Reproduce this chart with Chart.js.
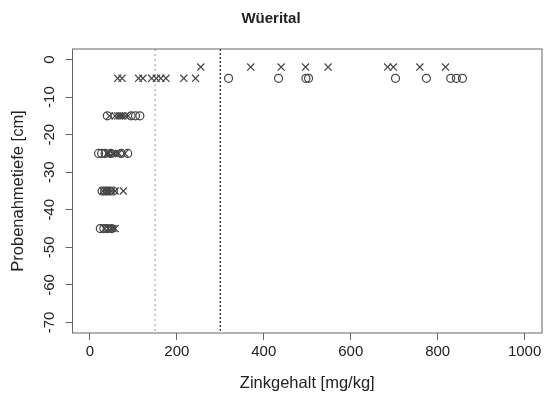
<!DOCTYPE html>
<html>
<head>
<meta charset="utf-8">
<script src="https://cdn.jsdelivr.net/npm/chart.js@4/dist/chart.umd.min.js"></script>
<style>
  html, body { margin: 0; padding: 0; background: #fff; }
  #wrap { width: 549px; height: 396px; }
</style>
</head>
<body>
<div id="wrap"><canvas id="zink_chart"></canvas></div>
<script>
// DATA
const x_ticks = [0, 200, 400, 600, 800, 1000];
const y_ticks = [0, -10, -20, -30, -40, -50, -60, -70];
const thresholds = [150, 300];

// KREUZE (x)
const cross_zinc = [
  255, 370, 440, 496, 548, 685, 698, 759, 818,
  64, 74, 112, 122, 142, 153, 163, 175, 216, 243,
  45, 58, 64, 68, 72, 76, 82, 88,
  40, 44, 52, 56, 62, 66, 80,
  30, 36, 42, 50, 58, 77,
  34, 42, 48, 53, 58
];
const cross_depth = [
  -2, -2, -2, -2, -2, -2, -2, -2, -2,
  -5, -5, -5, -5, -5, -5, -5, -5, -5, -5,
  -15, -15, -15, -15, -15, -15, -15, -15,
  -25, -25, -25, -25, -25, -25, -25,
  -35, -35, -35, -35, -35, -35,
  -45, -45, -45, -45, -45
];

// KREISE (o)
const circle_zinc = [
  319, 434, 497, 503, 703, 774, 830, 843, 857,
  40, 95, 105, 115,
  20, 27, 35, 48, 72, 87,
  28, 34, 40, 46, 54,
  24, 32, 40, 50
];
const circle_depth = [
  -5, -5, -5, -5, -5, -5, -5, -5, -5,
  -15, -15, -15, -15,
  -25, -25, -25, -25, -25, -25,
  -35, -35, -35, -35, -35,
  -45, -45, -45, -45
];

const to_points = (xs, ys) => xs.map((v, i) => ({ x: v, y: ys[i] }));

const text_color = "#222";
const mark_color = "#444";
const font_family = "'Liberation Sans', Arial, sans-serif";

// R STYLE BOX, THRESHOLD LINES, ROTATED Y LABELS
const r_style = {
  id: "r_style",
  beforeDatasetsDraw(chart) {
    const { ctx, chartArea, scales } = chart;
    ctx.save();
    thresholds.forEach((t, i) => {
      const px = scales.x.getPixelForValue(t);
      ctx.beginPath();
      ctx.strokeStyle = i === 0 ? "#999" : "#444";
      ctx.lineWidth = i === 0 ? 1 : 1.5;
      ctx.setLineDash(i === 0 ? [2, 3] : [2, 2]);
      ctx.moveTo(px, chartArea.top);
      ctx.lineTo(px, chartArea.bottom);
      ctx.stroke();
    });
    ctx.restore();
  },
  afterDraw(chart) {
    const { ctx, chartArea, scales } = chart;
    ctx.save();
    ctx.strokeStyle = "#666";
    ctx.lineWidth = 1;
    ctx.strokeRect(chartArea.left, chartArea.top,
      chartArea.right - chartArea.left, chartArea.bottom - chartArea.top);

    ctx.fillStyle = text_color;
    ctx.font = "15px " + font_family;
    ctx.textAlign = "center";
    ctx.textBaseline = "middle";
    y_ticks.forEach(v => {
      const py = scales.y.getPixelForValue(v);
      ctx.save();
      ctx.translate(50, py);
      ctx.rotate(-Math.PI / 2);
      ctx.fillText(String(v), 0, 0);
      ctx.restore();
    });
    ctx.restore();
  }
};

const ctx = document.getElementById("zink_chart").getContext("2d");

new Chart(ctx, {
  type: "scatter",
  data: {
    datasets: [
      {
        label: "Kreuze",
        data: to_points(cross_zinc, cross_depth),
        pointStyle: "crossRot",
        pointRadius: 5,
        borderColor: mark_color,
        backgroundColor: mark_color,
        borderWidth: 1.2
      },
      {
        label: "Kreise",
        data: to_points(circle_zinc, circle_depth),
        pointStyle: "circle",
        pointRadius: 4,
        borderColor: mark_color,
        backgroundColor: "rgba(0,0,0,0)",
        borderWidth: 1.2
      }
    ]
  },
  options: {
    responsive: true,
    maintainAspectRatio: false,
    animation: false,
    layout: { padding: { top: 0, right: 7, bottom: 0, left: 0 } },
    plugins: {
      legend: { display: false },
      tooltip: { enabled: false },
      title: {
        display: true,
        text: "Wüerital",
        color: text_color,
        font: { family: font_family, size: 15, weight: "bold" },
        padding: { top: 10, bottom: 21 }
      }
    },
    scales: {
      x: {
        type: "linear",
        min: -40,
        max: 1040,
        afterBuildTicks: scale => { scale.ticks = x_ticks.map(v => ({ value: v })); },
        afterFit: scale => { scale.height = 63; },
        grid: { drawOnChartArea: false, drawTicks: true, tickLength: 7, color: "#666" },
        border: { display: false },
        ticks: {
          color: text_color,
          padding: 3,
          maxRotation: 0,
          callback: v => String(v),
          font: { family: font_family, size: 15 }
        },
        title: {
          display: true,
          text: "Zinkgehalt [mg/kg]",
          color: text_color,
          font: { family: font_family, size: 16.5 },
          padding: { top: 0, bottom: 3 }
        }
      },
      y: {
        type: "linear",
        min: -72.8,
        max: 2.8,
        afterBuildTicks: scale => { scale.ticks = y_ticks.map(v => ({ value: v })); },
        afterFit: scale => { scale.width = 72.5; },
        grid: { drawOnChartArea: false, drawTicks: true, tickLength: 7, color: "#666" },
        border: { display: false },
        ticks: { display: false },
        title: {
          display: true,
          text: "Probenahmetiefe [cm]",
          color: text_color,
          font: { family: font_family, size: 16.5 },
          padding: { top: 9, bottom: 0 }
        }
      }
    }
  },
  plugins: [r_style]
});
</script>
</body>
</html>
